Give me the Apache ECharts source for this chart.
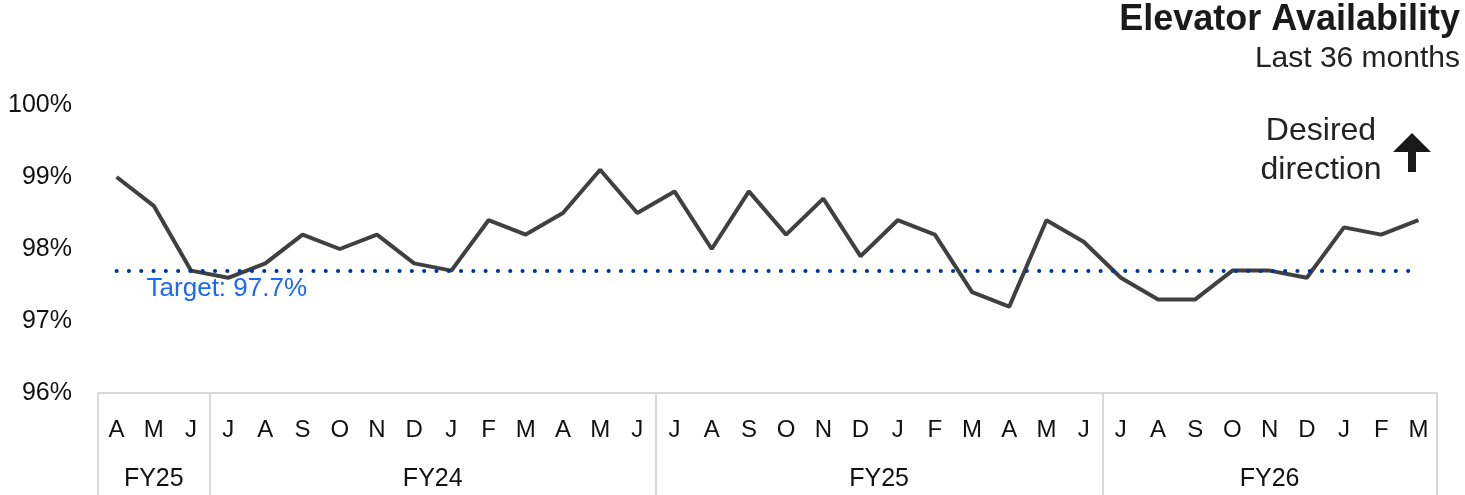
<!DOCTYPE html>
<html>
<head>
<meta charset="utf-8">
<script src="https://cdn.jsdelivr.net/npm/echarts@6/dist/echarts.min.js"></script>
<style>
  html, body { margin: 0; padding: 0; background: #fff; }
  #chart { width: 1465px; height: 495px; }
</style>
</head>
<body>
<div id="chart"></div>
<script>
  // months, last 36
  const months = ['A', 'M', 'J', 'J', 'A', 'S', 'O', 'N', 'D', 'J', 'F', 'M', 'A', 'M', 'J',
    'J', 'A', 'S', 'O', 'N', 'D', 'J', 'F', 'M', 'A', 'M', 'J',
    'J', 'A', 'S', 'O', 'N', 'D', 'J', 'F', 'M'];
  const availability = [99.0, 98.6, 97.7, 97.6, 97.8, 98.2, 98.0, 98.2, 97.8, 97.7, 98.4, 98.2,
    98.5, 99.1, 98.5, 98.8, 98.0, 98.8, 98.2, 98.7, 97.9, 98.4, 98.2, 97.4,
    97.2, 98.4, 98.1, 97.6, 97.3, 97.3, 97.7, 97.7, 97.6, 98.3, 98.2, 98.4];
  const target = 97.7;
  // fiscal year groups: name + month count
  const fyNames = ['FY25', 'FY24', 'FY25', 'FY26'];
  const fyLengths = [3, 12, 12, 9];

  // group boundaries and centres in month units
  const fyBounds = [0];
  fyLengths.forEach(n => fyBounds.push(fyBounds[fyBounds.length - 1] + n));
  const fyCenters = fyLengths.map((n, i) => fyBounds[i] + n / 2);

  const chart = echarts.init(document.getElementById('chart'));
  const font = 'Liberation Sans, Arial, sans-serif';

  const option = {
    animation: false,
    grid: { left: 98, right: 28, top: 105, bottom: 102 },
    xAxis: [
      {
        type: 'category',
        data: months,
        boundaryGap: true,
        position: 'bottom',
        axisLine: { show: true, lineStyle: { color: '#d9d9d9', width: 2 } },
        axisTick: { show: false },
        axisLabel: { margin: 25, fontFamily: font, fontSize: 24, color: '#111' }
      },
      {
        type: 'value',
        min: 0,
        max: 36,
        position: 'bottom',
        offset: 0,
        axisLine: { show: false },
        splitLine: { show: false },
        axisTick: {
          show: true,
          customValues: fyBounds,
          length: 110,
          lineStyle: { color: '#d9d9d9', width: 2 }
        },
        axisLabel: {
          customValues: fyCenters,
          margin: 74,
          fontFamily: font,
          fontSize: 25,
          color: '#111',
          formatter: v => fyNames[fyCenters.indexOf(v)]
        }
      }
    ],
    yAxis: {
      type: 'value',
      min: 96,
      max: 100,
      interval: 1,
      axisLine: { show: false },
      axisTick: { show: false },
      splitLine: { show: false },
      axisLabel: { margin: 26, fontFamily: font, fontSize: 25, color: '#111', formatter: '{value}%' }
    },
    series: [
      {
        type: 'line',
        data: availability,
        xAxisIndex: 0,
        symbol: 'none',
        lineStyle: { color: '#404040', width: 4 },
        z: 3,
        markLine: {
          silent: true,
          symbol: 'none',
          lineStyle: { color: '#0033a0', width: 4, type: [0.1, 12.2], cap: 'round' },
          label: {
            position: 'insideStartBottom',
            distance: [30, 5],
            formatter: 'Target: ' + target + '%',
            fontFamily: font,
            fontSize: 26,
            color: '#1a66ff'
          },
          data: [[{ coord: [0, target] }, { coord: [months.length - 1, target] }]]
        }
      }
    ],
    graphic: [
      {
        type: 'text',
        x: 1460,
        y: 20,
        style: {
          text: 'Elevator Availability',
          fontFamily: font,
          fontWeight: 'bold',
          fontSize: 36,
          fill: '#1a1a1a',
          align: 'right',
          verticalAlign: 'middle'
        }
      },
      {
        type: 'text',
        x: 1460,
        y: 59,
        style: {
          text: 'Last 36 months',
          fontFamily: font,
          fontSize: 30,
          fill: '#222',
          align: 'right',
          verticalAlign: 'middle'
        }
      },
      {
        type: 'text',
        x: 1321,
        y: 131,
        style: {
          text: 'Desired',
          fontFamily: font,
          fontSize: 32,
          fill: '#222',
          align: 'center',
          verticalAlign: 'middle'
        }
      },
      {
        type: 'text',
        x: 1321,
        y: 170,
        style: {
          text: 'direction',
          fontFamily: font,
          fontSize: 32,
          fill: '#222',
          align: 'center',
          verticalAlign: 'middle'
        }
      },
      {
        type: 'polygon',
        shape: {
          points: [[1412, 133], [1431, 152], [1416, 152], [1416, 172], [1408, 172], [1408, 152], [1393, 152]]
        },
        style: { fill: '#1a1a1a' }
      }
    ]
  };

  chart.setOption(option);
</script>
</body>
</html>
